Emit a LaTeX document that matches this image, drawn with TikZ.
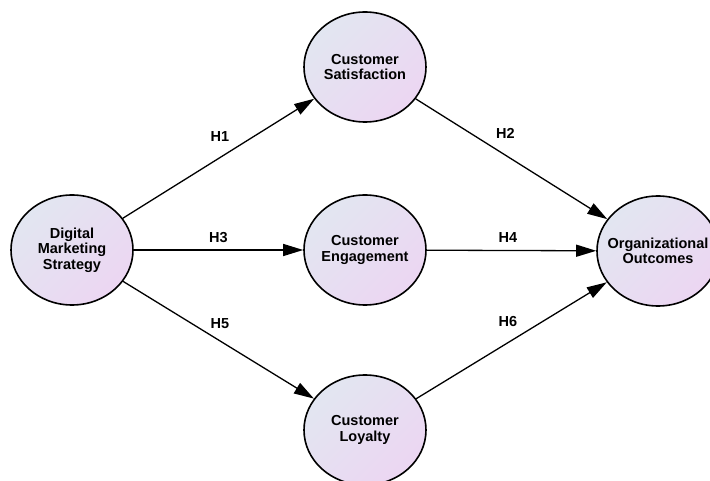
\documentclass[tikz,border=0pt]{standalone}
\usepackage{fontspec}
\setmainfont{Liberation Sans}
\usetikzlibrary{shapes.geometric,arrows.meta}
\definecolor{shadetl}{RGB}{226,230,241}
\definecolor{shadebr}{RGB}{236,214,242}

\begin{document}
\begin{tikzpicture}[x=1pt,y=-1pt,
  construct/.style={draw, ellipse, line width=1.6pt, minimum width=122pt, minimum height=110pt,
    top color=shadetl, bottom color=shadebr, shading angle=45, inner sep=0pt},
  ctext/.style={font=\fontsize{14.5}{15.5}\selectfont\bfseries, align=center, inner sep=0pt},
  hyp/.style={font=\fontsize{14.5}{15.5}\selectfont\bfseries, inner sep=0pt},
  link/.style={draw, line width=1.3pt, -{Triangle[length=20pt,width=12pt]}}]
\useasboundingbox (0,0) rectangle (710,481);
\newcommand\latentvar[3]{
\node[construct] (#1) at (#2) {};
\node[ctext] (#1-t) at (#1.center) {#3};
}
\latentvar{dms}{72,250}{Digital\\Marketing\\Strategy}
\latentvar{cs}{365,67}{Customer\\Satisfaction}
\latentvar{ce}{365,250}{Customer\\Engagement}
\latentvar{cl}{365,430}{Customer\\Loyalty}
\latentvar{oo}{658,251}{Organizational\\Outcomes}
\path[link] (dms) -- node[hyp, above=16pt, xshift=1.5pt] (h1) {H1} (cs);
\path[link] (cs) -- node[hyp, above=20pt, xshift=-6pt] (h2) {H2} (oo);
\path[link] (dms) -- node[hyp, above=7pt] (h3) {H3} (ce);
\path[link] (ce) -- node[hyp, above=7pt, xshift=-3.5pt] (h4) {H4} (oo);
\path[link] (dms) -- node[hyp, above=11pt, xshift=1.5pt] (h5) {H5} (cl);
\path[link] (cl) -- node[hyp, above=13pt, xshift=-3.5pt] (h6) {H6} (oo);
\end{tikzpicture}
\end{document}
